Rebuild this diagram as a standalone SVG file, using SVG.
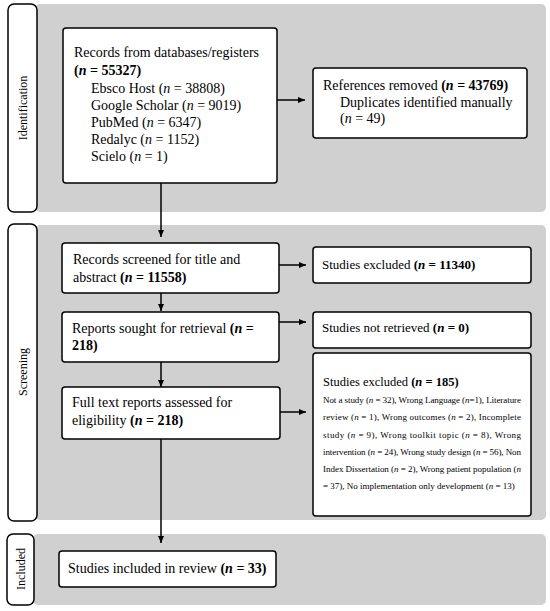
<svg xmlns="http://www.w3.org/2000/svg" width="550" height="611" viewBox="0 0 550 611">
<style>
.band{fill:#d1d0d1}
.lab{fill:#fff;stroke:#000;stroke-width:1.5}
.box{fill:#fff;stroke:#000;stroke-width:1.5}
text{font-family:"Liberation Serif","Times New Roman",serif;fill:#000}
.t{font-size:14px}
.s{font-size:9px}
.h{font-size:13px}
.h2{font-size:12.5px}
.lt{font-size:12px}
.b{font-weight:bold}
.i{font-style:italic}
.con line{stroke:#000;stroke-width:1.5}
</style>
<defs>
<marker id="ah" markerUnits="userSpaceOnUse" markerWidth="8" markerHeight="8" refX="7" refY="4" orient="auto">
<path d="M0,1 L7,4 L0,7 Z" fill="#000"/>
</marker>
</defs>
<g id="bands">
<rect class="band" x="35" y="4" width="511" height="208" rx="5"/>
<rect class="band" x="35" y="225" width="511" height="295" rx="5"/>
<rect class="band" x="33" y="534" width="513" height="71" rx="5"/>
</g>
<g id="label-identification">
<rect class="lab" x="8" y="4" width="29" height="208" rx="6"/>
<text class="lt" text-anchor="middle" transform="translate(27,108) rotate(-90)">Identification</text>
</g>
<g id="label-screening">
<rect class="lab" x="8" y="224" width="29" height="297" rx="6"/>
<text class="lt" text-anchor="middle" transform="translate(27,372) rotate(-90)">Screening</text>
</g>
<g id="label-included">
<rect class="lab" x="7" y="534" width="27" height="71" rx="6"/>
<text class="lt" text-anchor="middle" transform="translate(25,569) rotate(-90)">Included</text>
</g>
<g class="con" id="connectors">
<line x1="277" y1="100" x2="305" y2="100" marker-end="url(#ah)"/>
<line x1="161" y1="183" x2="161" y2="237" marker-end="url(#ah)"/>
<line x1="279" y1="265" x2="306" y2="265" marker-end="url(#ah)"/>
<line x1="161" y1="293" x2="161" y2="311" marker-end="url(#ah)"/>
<line x1="279" y1="322" x2="306" y2="322" marker-end="url(#ah)"/>
<line x1="161" y1="362" x2="161" y2="387" marker-end="url(#ah)"/>
<line x1="280" y1="412" x2="306" y2="412" marker-end="url(#ah)"/>
<line x1="161" y1="439" x2="161" y2="543" marker-end="url(#ah)"/>
</g>
<g id="records">
<rect class="box" x="63" y="28" width="214" height="155" rx="3"/>
<text class="t" x="74" y="57">Records from databases/registers</text>
<text class="t b" x="74" y="75">(<tspan class="i">n</tspan> = 55327)</text>
<text class="t" x="91" y="93">Ebsco Host (<tspan class="i">n</tspan> = 38808)</text>
<text class="t" x="91" y="110">Google Scholar (<tspan class="i">n</tspan> = 9019)</text>
<text class="t" x="91" y="127">PubMed (<tspan class="i">n</tspan> = 6347)</text>
<text class="t" x="91" y="144">Redalyc (<tspan class="i">n</tspan> = 1152)</text>
<text class="t" x="91" y="161">Scielo (<tspan class="i">n</tspan> = 1)</text>
</g>
<g id="removed">
<rect class="box" x="313" y="68" width="214" height="70" rx="3"/>
<text class="t" x="323" y="90">References removed <tspan class="b">(<tspan class="i">n</tspan> = 43769)</tspan></text>
<text class="t" x="340" y="107">Duplicates identified manually</text>
<text class="t" x="340" y="123">(<tspan class="i">n</tspan> = 49)</text>
</g>
<g id="screened">
<rect class="box" x="62" y="243" width="217" height="50" rx="3"/>
<text class="t" x="73" y="264">Records screened for title and</text>
<text class="t" x="73" y="282">abstract <tspan class="b">(<tspan class="i">n</tspan> = 11558)</tspan></text>
</g>
<g id="excluded1">
<rect class="box" x="313" y="247" width="218" height="36" rx="3"/>
<text class="h" x="322" y="269">Studies excluded <tspan class="b">(<tspan class="i">n</tspan> = 11340)</tspan></text>
</g>
<g id="sought">
<rect class="box" x="62" y="312" width="217" height="50" rx="3"/>
<text class="t" x="72" y="333">Reports sought for retrieval <tspan class="b">(<tspan class="i">n</tspan> =</tspan></text>
<text class="t b" x="72" y="350">218)</text>
</g>
<g id="notretrieved">
<rect class="box" x="313" y="312" width="218" height="36" rx="3"/>
<text class="h" x="322" y="332">Studies not retrieved <tspan class="b">(<tspan class="i">n</tspan> = 0)</tspan></text>
</g>
<g id="fulltext">
<rect class="box" x="62" y="387" width="218" height="52" rx="3"/>
<text class="t" x="72" y="407">Full text reports assessed for</text>
<text class="t" x="72" y="425">eligibility <tspan class="b">(<tspan class="i">n</tspan> = 218)</tspan></text>
</g>
<g id="excluded2">
<rect class="box" x="313" y="353" width="218" height="163" rx="3"/>
<text class="h2" x="323" y="386">Studies excluded <tspan class="b">(<tspan class="i">n</tspan> = 185)</tspan></text>
<text class="s" x="323" y="403" textLength="198" lengthAdjust="spacing">Not a study (<tspan class="i">n</tspan> = 32), Wrong Language (<tspan class="i">n</tspan>=1), Literature</text>
<text class="s" x="323" y="420" textLength="198" lengthAdjust="spacing">review (<tspan class="i">n</tspan> = 1), Wrong outcomes (<tspan class="i">n</tspan> = 2), Incomplete</text>
<text class="s" x="323" y="438" textLength="198" lengthAdjust="spacing">study (<tspan class="i">n</tspan> = 9), Wrong toolkit topic (<tspan class="i">n</tspan> = 8), Wrong</text>
<text class="s" x="323" y="455" textLength="198" lengthAdjust="spacing">intervention (<tspan class="i">n</tspan> = 24), Wrong study design (<tspan class="i">n</tspan> = 56), Non</text>
<text class="s" x="323" y="472" textLength="198" lengthAdjust="spacing">Index Dissertation (<tspan class="i">n</tspan> = 2), Wrong patient population (<tspan class="i">n</tspan></text>
<text class="s" x="323" y="489">= 37), No implementation only development (<tspan class="i">n</tspan> = 13)</text>
</g>
<g id="included">
<rect class="box" x="59" y="551" width="217" height="36" rx="3"/>
<text class="t" x="68" y="573">Studies included in review <tspan class="b">(<tspan class="i">n</tspan> = 33)</tspan></text>
</g>
</svg>
